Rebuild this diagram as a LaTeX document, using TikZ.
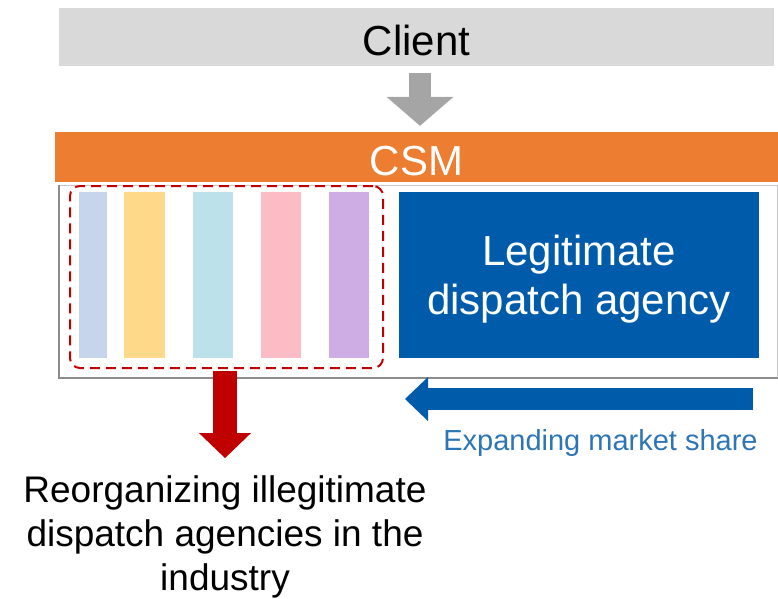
\documentclass[tikz,border=0pt]{standalone}
\usepackage{fontspec}
\setmainfont{Liberation Sans}
\usetikzlibrary{arrows.meta}

\definecolor{clientgray}{HTML}{D9D9D9}
\definecolor{arrowgray}{HTML}{A5A5A5}
\definecolor{csmorange}{HTML}{ED7D31}
\definecolor{framelight}{HTML}{C8C8C8}
\definecolor{framedark}{HTML}{8C8C8C}
\definecolor{dashred}{HTML}{C00000}
\definecolor{legitblue}{HTML}{005BAA}
\definecolor{sharetext}{HTML}{2E75B6}
\definecolor{barblue}{HTML}{C6D5EC}
\definecolor{baryellow}{HTML}{FFD98A}
\definecolor{barcyan}{HTML}{BDE1EB}
\definecolor{barpink}{HTML}{FCBCC5}
\definecolor{barlilac}{HTML}{CEADE5}

\tikzset{
  bigbox/.style={inner sep=0pt,font=\fontsize{42}{49}\selectfont,text height=36pt,text depth=0pt},
  framebox/.style={draw=framelight,line width=1pt,inner sep=0pt},
  bar/.style={inner sep=0pt,minimum height=166},
  dashbox/.style={draw=dashred,line width=2pt,dash pattern=on 10pt off 6pt,rounded corners=10pt,inner sep=0pt},
  legitbox/.style={fill=legitblue,text=white,align=center,inner sep=0pt,font=\fontsize{42}{49}\selectfont,text height=88pt},
  grayarrow/.style={draw=arrowgray,line width=22pt,-{Triangle[length=29pt,width=67pt,line width=0pt]}},
  redarrow/.style={draw=dashred,line width=24pt,-{Triangle[length=25pt,width=52pt,line width=0pt]}},
  bluearrow/.style={draw=legitblue,line width=22pt,-{Triangle[length=23pt,width=44pt,line width=0pt]}}
}

\begin{document}
\begin{tikzpicture}[x=1pt,y=-1pt]
  \useasboundingbox (0,0) rectangle (778,598);
  \node[bigbox,fill=clientgray,minimum width=715,minimum height=58] (client) at (416.5,37) {Client};
  \node[bigbox,fill=csmorange,text=white,minimum width=723,minimum height=50] (csm) at (416.5,157) {CSM};
  \node[framebox,minimum width=718,minimum height=192] (frame) at (418,281) {};
  \draw[draw=framedark,line width=2pt] (frame.north west) |- (frame.south east);
  % the five small agencies
  \node[bar,fill=barblue,minimum width=28] (b1) at (93,275) {};
  \node[bar,fill=baryellow,minimum width=41] (b2) at (144.5,275) {};
  \node[bar,fill=barcyan,minimum width=40] (b3) at (213,275) {};
  \node[bar,fill=barpink,minimum width=40] (b4) at (281,275) {};
  \node[bar,fill=barlilac,minimum width=40] (b5) at (349,275) {};
  \node[dashbox,minimum width=313,minimum height=182] (illegal) at (226.5,277) {};
  \node[legitbox,minimum width=360,minimum height=166] (legit) at (579,275) {Legitimate\\dispatch agency};
  \node[text=sharetext,font=\fontsize{29}{34}\selectfont,anchor=base,inner sep=0pt] (share) at (600.5,450) {Expanding market share};
  \node[font=\fontsize{37}{44}\selectfont,align=center,inner sep=0pt] (reorg) at (225,537) {Reorganizing illegitimate\\dispatch agencies in the\\industry};
  % arrows
  \draw[grayarrow,shorten <=7,shorten >=6] ([xshift=3.5]client.south) -- ([xshift=3.5]client.south |- csm.north);
  \draw[redarrow,shorten <=2,shorten >=17.5] (reorg.north |- illegal.south) -- (reorg.north);
  \coordinate (shareR) at (753,399);
  \coordinate (shareL) at (405,399);
  \draw[bluearrow] (shareR) -- (shareL);
\end{tikzpicture}
\end{document}
